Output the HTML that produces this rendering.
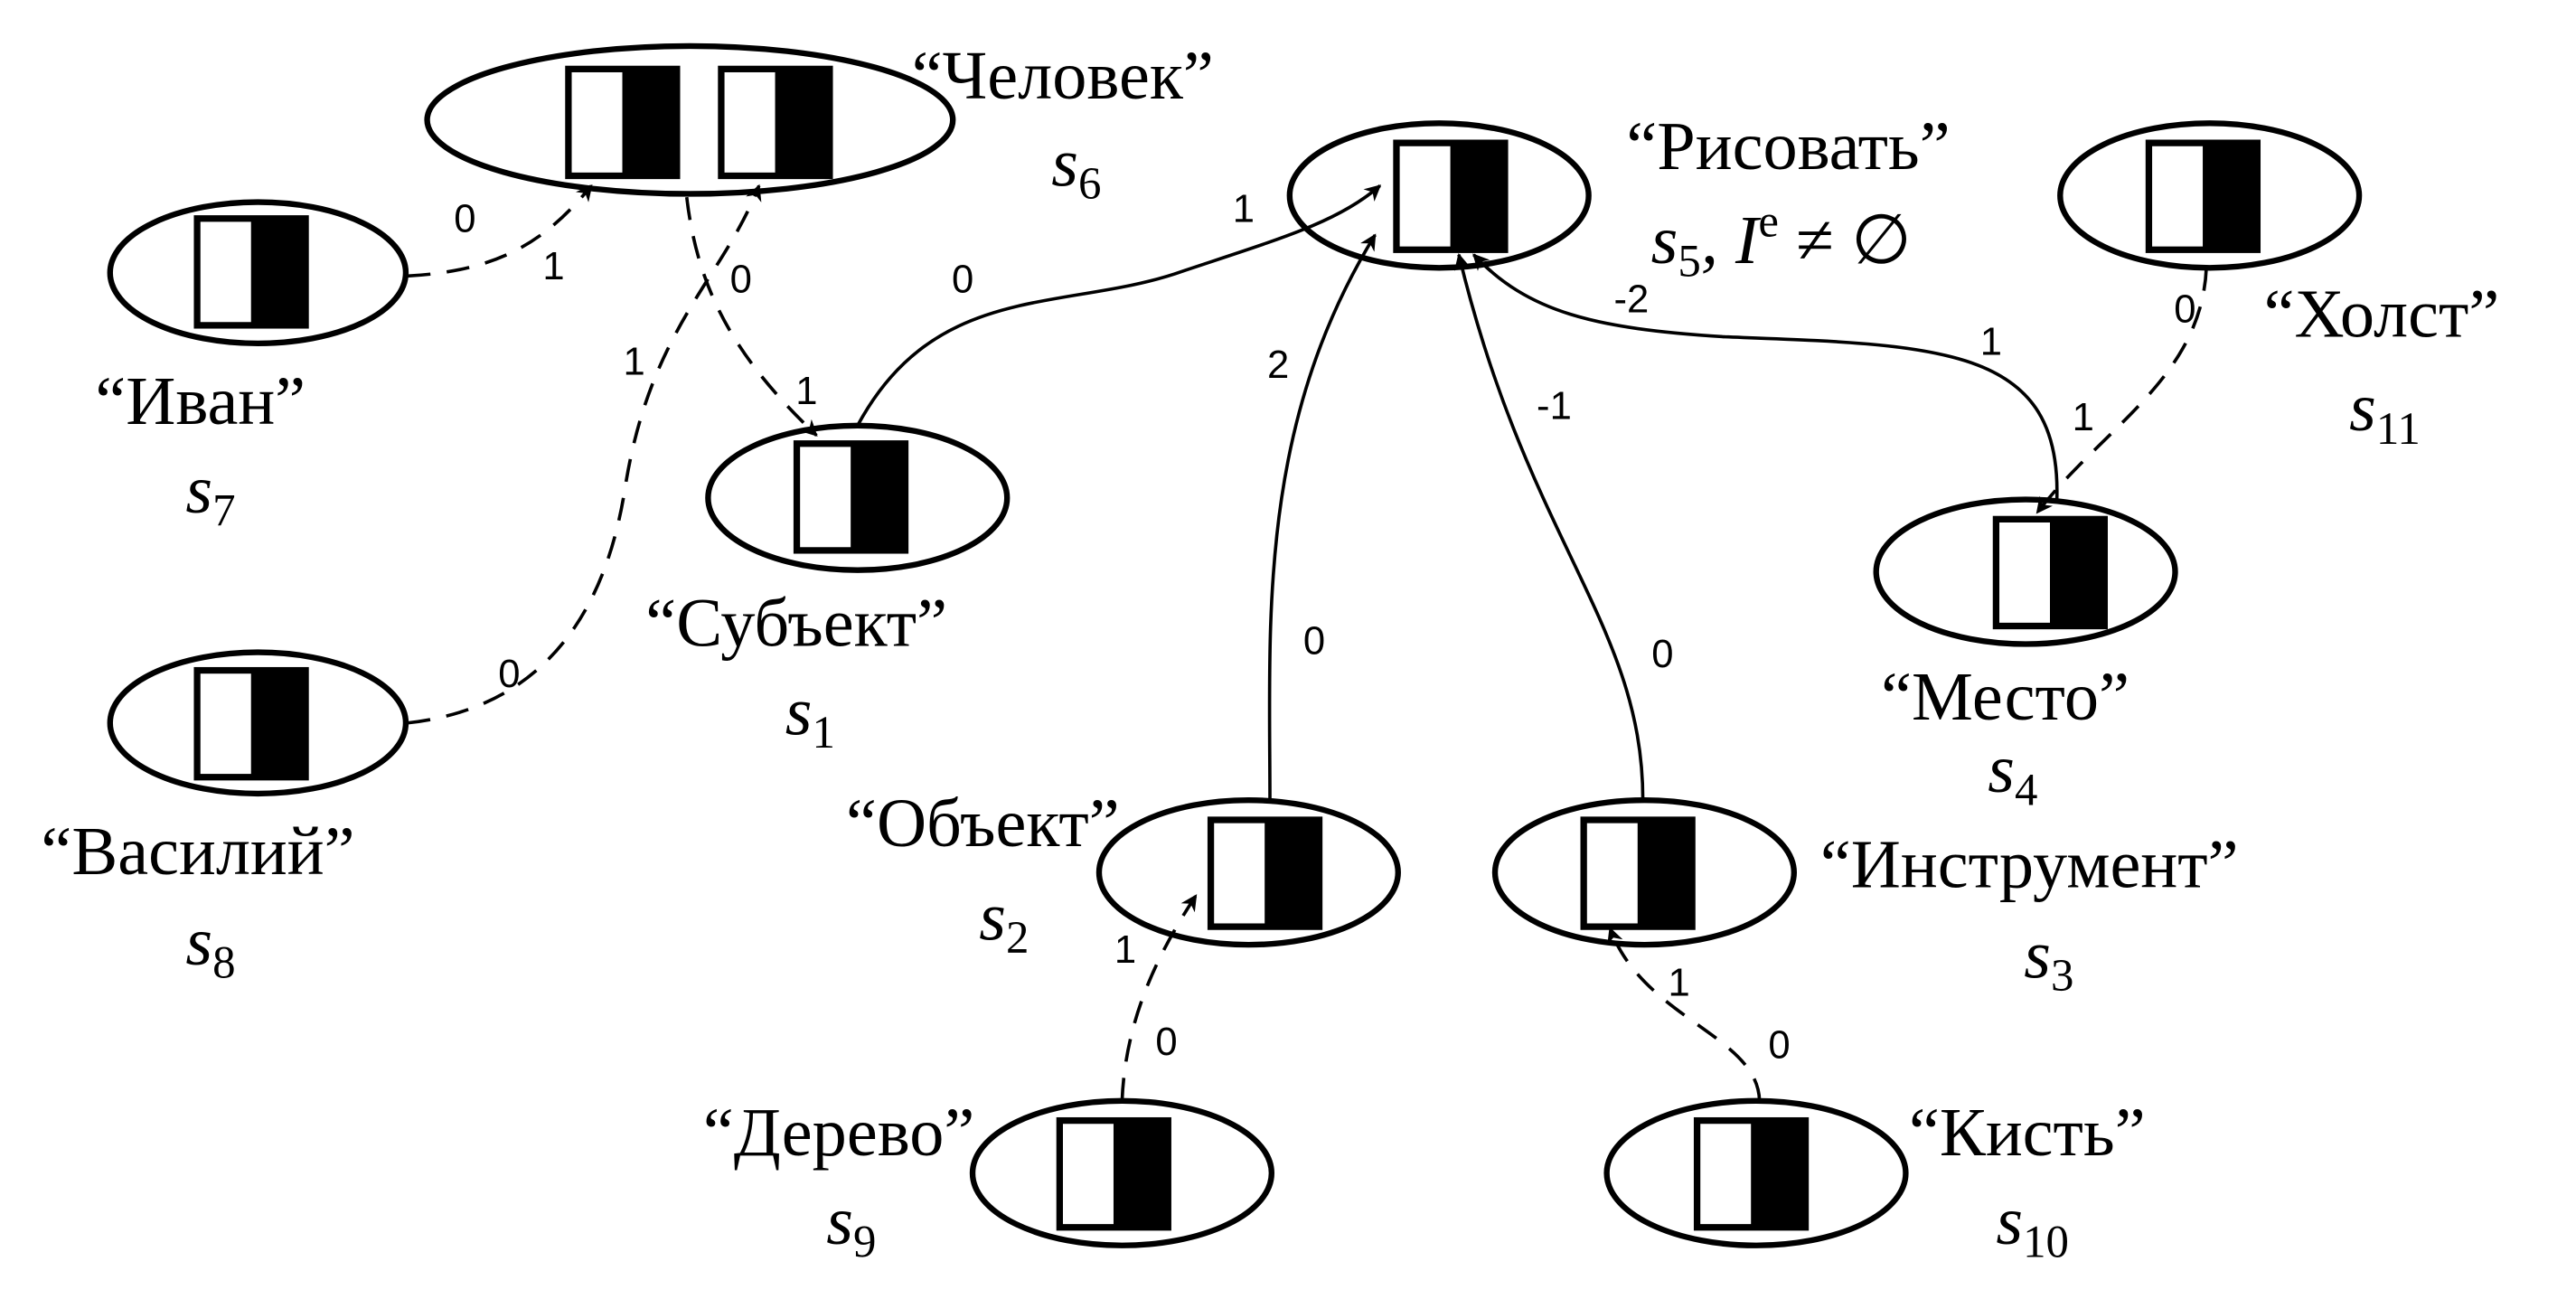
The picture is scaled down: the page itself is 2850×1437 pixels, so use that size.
<!DOCTYPE html>
<html><head><meta charset="utf-8"><style>
html,body{margin:0;padding:0;background:#fff;}
svg{display:block;}
.nm{font-family:"Liberation Serif","DejaVu Serif",serif;font-size:42px;}
.sv{font-family:"Liberation Serif","DejaVu Serif",serif;font-size:42px;font-style:italic;}
.sb{font-size:28px;font-style:normal;}
.lb{font-family:"Liberation Sans","DejaVu Sans",sans-serif;font-size:24px;}
</style></head><body>
<svg width="2850" height="1437" viewBox="0 0 1568 790.6" preserveAspectRatio="none" xmlns="http://www.w3.org/2000/svg">
<defs><marker id="ar" viewBox="0 0 10 10" refX="9" refY="5" markerWidth="5" markerHeight="5" orient="auto"><path d="M0,0 L10,5 L0,10 L3,5 z" fill="#000"/></marker></defs>
<g stroke="#000" stroke-width="3.5" fill="#fff">
<ellipse cx="420" cy="73" rx="160" ry="45"/>
<ellipse cx="157" cy="166" rx="90" ry="43"/>
<ellipse cx="157" cy="440" rx="90" ry="43"/>
<ellipse cx="522" cy="303" rx="91" ry="44"/>
<ellipse cx="876" cy="119" rx="91" ry="44"/>
<ellipse cx="1345" cy="119" rx="91" ry="44"/>
<ellipse cx="1233" cy="348" rx="91" ry="44"/>
<ellipse cx="760" cy="531" rx="91" ry="44"/>
<ellipse cx="1001" cy="531" rx="91" ry="44"/>
<ellipse cx="683" cy="714" rx="91" ry="44"/>
<ellipse cx="1069" cy="714" rx="91" ry="44"/>
</g>
<g fill="none" stroke="#000" stroke-width="2">
<path d="M248,168 C300,165 330,150 360,113" stroke-dasharray="14,10" marker-end="url(#ar)"/>
<path d="M248,440 C340,430 370,360 380,300 C395,200 440,170 462,113" stroke-dasharray="14,10" marker-end="url(#ar)"/>
<path d="M418,120 C425,180 450,220 497,265" stroke-dasharray="14,10" marker-end="url(#ar)"/>
<path d="M522,259 C570,170 650,190 720,165 C780,145 815,135 840,113" marker-end="url(#ar)"/>
<path d="M773,487 C773,380 765,260 837,143" marker-end="url(#ar)"/>
<path d="M1000,487 C1000,380 930,330 888,155" marker-end="url(#ar)"/>
<path d="M1252,304 C1255,210 1180,210 1050,205 C970,200 930,190 897,155" marker-end="url(#ar)"/>
<path d="M1343,163 C1340,230 1280,260 1240,312" stroke-dasharray="14,10" marker-end="url(#ar)"/>
<path d="M683,670 C685,620 705,580 728,545" stroke-dasharray="14,10" marker-end="url(#ar)"/>
<path d="M1071,670 C1070,630 1000,620 980,565" stroke-dasharray="14,10" marker-end="url(#ar)"/>
</g>
<g class="lb" text-anchor="middle">
<text x="283" y="141">0</text><text x="337" y="170">1</text>
<text x="310" y="418">0</text><text x="386" y="228">1</text>
<text x="451" y="178">0</text><text x="491" y="246">1</text>
<text x="586" y="178">0</text><text x="757" y="135">1</text>
<text x="800" y="398">0</text><text x="778" y="230">2</text>
<text x="1012" y="406">0</text><text x="946" y="255">-1</text>
<text x="1212" y="216">1</text><text x="993" y="190">-2</text>
<text x="1330" y="196">0</text><text x="1268" y="262">1</text>
<text x="685" y="586">1</text><text x="710" y="642">0</text>
<text x="1022" y="606">1</text><text x="1083" y="644">0</text>
</g>
<g id="boxes"></g>
<g class="nm">
<text x="555" y="60">“Человек”</text>
<text x="990" y="103">“Рисовать”</text>
<text x="1378" y="205">“Холст”</text>
<text x="58" y="258">“Иван”</text>
<text x="393" y="393">“Субъект”</text>
<text x="1145" y="438">“Место”</text>
<text x="25" y="532">“Василий”</text>
<text x="515" y="515">“Объект”</text>
<text x="1108" y="540">“Инструмент”</text>
<text x="428" y="703">“Дерево”</text>
<text x="1162" y="703">“Кисть”</text>
</g>
<g class="sv">
<text x="640" y="113">s<tspan class="sb" dy="8">6</tspan></text>
<text x="1005" y="160">s<tspan class="sb" dy="8">5</tspan><tspan dy="-8">, I</tspan><tspan class="sb" dy="-16">e</tspan><tspan dy="16" style="font-style:normal"> ≠ ∅</tspan></text>
<text x="1430" y="262">s<tspan class="sb" dy="8">11</tspan></text>
<text x="113" y="312">s<tspan class="sb" dy="8">7</tspan></text>
<text x="478" y="447">s<tspan class="sb" dy="8">1</tspan></text>
<text x="1210" y="482">s<tspan class="sb" dy="8">4</tspan></text>
<text x="113" y="587">s<tspan class="sb" dy="8">8</tspan></text>
<text x="596" y="572">s<tspan class="sb" dy="8">2</tspan></text>
<text x="1232" y="595">s<tspan class="sb" dy="8">3</tspan></text>
<text x="503" y="757">s<tspan class="sb" dy="8">9</tspan></text>
<text x="1215" y="757">s<tspan class="sb" dy="8">10</tspan></text>
</g>
</svg>
<script>
const boxX=[344,437,118,118,483,848,1306,1213,735,962,643,1031];
const boxY=[40,40,131,406,268,85,85,314,497,497,680,680];
const g=document.getElementById('boxes');
const NS='http://www.w3.org/2000/svg';
for(let i=0;i<boxX.length;i++){
  const w=70,h=69;
  const b=document.createElementNS(NS,'rect');
  
  
  b.setAttribute('x',boxX[i]);b.setAttribute('y',boxY[i]);
  b.setAttribute('width',w);b.setAttribute('height',h);b.setAttribute('fill','#000');
  g.appendChild(b);
  const wr=document.createElementNS(NS,'rect');
  
  
  wr.setAttribute('x',boxX[i]+4);wr.setAttribute('y',boxY[i]+4);
  wr.setAttribute('width',w*0.44);wr.setAttribute('height',h-8);wr.setAttribute('fill','#fff');
  g.appendChild(wr);
}
</script>
</body></html>
